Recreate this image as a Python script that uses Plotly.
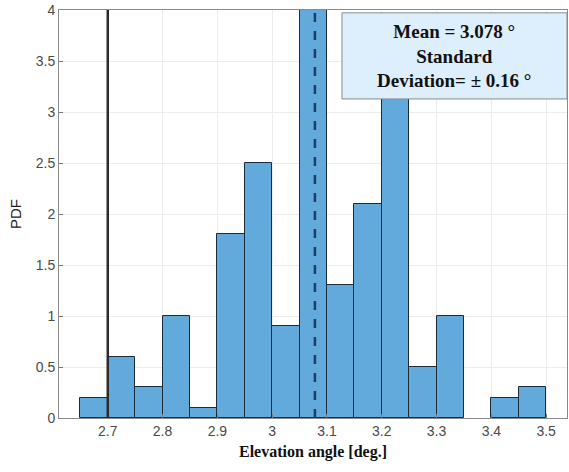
import plotly.graph_objects as go

bin_centers = [2.675, 2.725, 2.775, 2.825, 2.875, 2.925, 2.975, 3.025, 3.075,
               3.125, 3.175, 3.225, 3.275, 3.325, 3.375, 3.425, 3.475]
pdf_values = [0.2, 0.6, 0.3, 1.0, 0.1, 1.8, 2.5, 0.9, 4.6,
              1.3, 2.1, 3.4, 0.5, 1.0, 0.0, 0.2, 0.3]
bin_width = 0.05
mean_val = 3.078
ref_line = 2.7
x_ticks = [2.7, 2.8, 2.9, 3.0, 3.1, 3.2, 3.3, 3.4, 3.5]
x_tick_labels = ["2.7", "2.8", "2.9", "3", "3.1", "3.2", "3.3", "3.4", "3.5"]
y_ticks = [0, 0.5, 1, 1.5, 2, 2.5, 3, 3.5, 4]
y_tick_labels = ["0", "0.5", "1", "1.5", "2", "2.5", "3", "3.5", "4"]

edge_widths = [1 if v > 0 else 0 for v in pdf_values]

fig = go.Figure()
fig.add_trace(go.Bar(
    x=bin_centers, y=pdf_values, width=bin_width,
    marker=dict(color="#62a9dc", line=dict(color="#1c2b3a", width=edge_widths)),
    showlegend=False,
))

fig.add_shape(type="line", x0=ref_line, x1=ref_line, y0=0, y1=1,
              xref="x", yref="paper", line=dict(color="#2b2b2b", width=2.5))
fig.add_shape(type="line", x0=mean_val, x1=mean_val, y0=0, y1=1,
              xref="x", yref="paper", line=dict(color="#1f3d66", width=2.5, dash="dash"))

fig.add_shape(type="rect", xref="paper", yref="paper",
              x0=0.557, x1=1.0, y0=0.782, y1=0.993,
              fillcolor="#ddeefc", line=dict(color="#8a8a8a", width=1))
fig.add_annotation(xref="paper", yref="paper", x=0.7785, y=0.8875,
                   xanchor="center", yanchor="middle",
                   text="<b>Mean = 3.078 °</b><br><b>Standard</b><br><b>Deviation= ± 0.16 °</b>",
                   showarrow=False, align="center",
                   font=dict(family="Liberation Serif, Times New Roman, serif", size=19, color="#111111"))

fig.update_layout(
    width=569, height=472,
    margin=dict(l=59, r=2, t=10, b=54),
    plot_bgcolor="white", paper_bgcolor="white",
    bargap=0,
    xaxis=dict(range=[2.611, 3.538], tickvals=x_ticks, ticktext=x_tick_labels,
               showgrid=True, gridcolor="#ececec", ticks="inside", ticklen=4,
               tickcolor="#7a7a7a", showline=True, linecolor="#8a8a8a", mirror=True,
               zeroline=False,
               tickfont=dict(family="Liberation Sans, Arial, sans-serif", size=14, color="#4a4a4a"),
               title=dict(text="<b>Elevation angle [deg.]</b>", standoff=8,
                          font=dict(family="Liberation Serif, Times New Roman, serif", size=16, color="#111111"))),
    yaxis=dict(range=[0, 4], tickvals=y_ticks, ticktext=y_tick_labels,
               showgrid=True, gridcolor="#ececec", ticks="inside", ticklen=4,
               tickcolor="#7a7a7a", showline=True, linecolor="#8a8a8a", mirror=True,
               zeroline=False,
               tickfont=dict(family="Liberation Sans, Arial, sans-serif", size=14, color="#4a4a4a"),
               title=dict(text="PDF", standoff=10,
                          font=dict(family="Liberation Sans, Arial, sans-serif", size=15, color="#222222"))),
)

fig.write_html("out.html")
